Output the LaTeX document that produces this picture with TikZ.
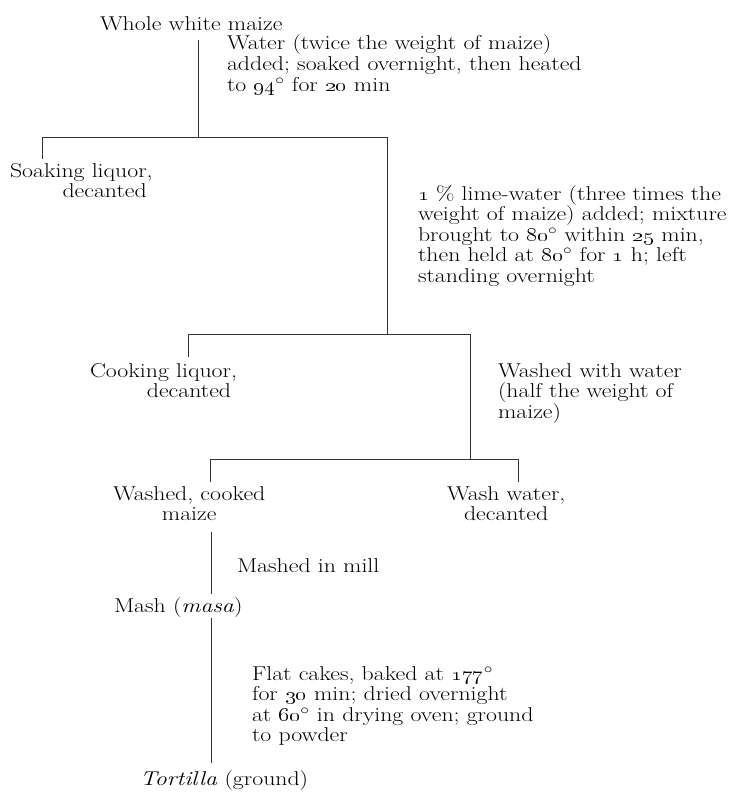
\documentclass[tikz,border=0pt]{standalone}
\newcommand\osn[1]{\oldstylenums{#1}}
\newcommand\dg{$^{\circ}$}
\newcommand\xs{1.19}
\newcommand\bl[1]{\scalebox{\xs}[1]{\vtop{\baselineskip=15.4pt\lineskiplimit=-\maxdimen\halign{##\hfil\cr#1\crcr}}}}
\newcommand\br[1]{\scalebox{\xs}[1]{\vtop{\baselineskip=15.4pt\lineskiplimit=-\maxdimen\halign{\hfil##\cr#1\crcr}}}}
\newcommand\bc[1]{\scalebox{\xs}[1]{\vtop{\baselineskip=15.4pt\lineskiplimit=-\maxdimen\halign{\hfil##\hfil\cr#1\crcr}}}}
\tikzset{
  txt/.style={anchor=base west, inner sep=0pt, outer sep=0pt,
    font=\fontsize{15}{15.4}\selectfont},
  ln/.style={line width=0.65pt, black!80},
}
\begin{document}
\begin{tikzpicture}[x=0.75pt,y=-0.75pt]
\useasboundingbox (0,0) rectangle (730,792);
% texts (anchor = baseline of first line)
\node[txt] (whole) at (100,31) {\bl{Whole white maize}};
\node[txt] (water) at (227,50) {\bl{Water (twice the weight of maize)\cr added; soaked overnight, then heated\cr to \osn{94}\dg\ for \osn{20} min}};
\node[txt] (soak) at (10,177) {\br{Soaking liquor\rlap{,}\cr decanted}};
\node[txt] (lime) at (418,200) {\bl{\osn{1} \% lime-water (three times the\cr weight of maize) added; mixture\cr brought to \osn{80}\dg\ within \osn{25} min,\cr then held at \osn{80}\dg\ for \osn{1} h; left\cr standing overnight}};
\node[txt] (cook) at (90,377) {\br{Cooking liquor\rlap{,}\cr decanted}};
\node[txt] (washw) at (498,377) {\bl{Washed with water\cr (half the weight of\cr maize)}};
\node[txt] (wcm) at (113,500) {\bc{Washed, cooked\cr maize}};
\node[txt] (wwd) at (447,500) {\bc{Wash water,\cr decanted}};
\node[txt] (mill) at (237,572) {\bl{Mashed in mill}};
\node[txt] (mash) at (114,612) {\bl{Mash (\textit{masa})}};
\node[txt] (flat) at (252,680) {\bl{Flat cakes, baked at \osn{177}\dg\cr for \osn{30} min; dried overnight\cr at \osn{60}\dg\ in drying oven; ground\cr to powder}};
\node[txt] (tort) at (140,785) {\bl{\textit{Tortilla} (ground)}};
% junction coordinates
\coordinate (a0) at (198,40);
\coordinate (a1) at (198,137);
\coordinate (a2) at (42,137);
\coordinate (a3) at (42,159);
\coordinate (a4) at (387,137);
\coordinate (b1) at (387,334);
\coordinate (b2) at (188,334);
\coordinate (b3) at (188,357);
\coordinate (b4) at (470,334);
\coordinate (c1) at (470,459);
\coordinate (c2) at (210,459);
\coordinate (c3) at (210,482);
\coordinate (c4) at (518,459);
\coordinate (c5) at (518,482);
\coordinate (d0) at (211,532);
\coordinate (d1) at (211,594);
\coordinate (e0) at (211,618);
\coordinate (e1) at (211,763);
% connectors
\draw[ln] (a0) -- (a1);
\draw[ln] (a3) -- (a2) -- (a4) -- (b1);
\draw[ln] (b3) -- (b2) -- (b4) -- (c1);
\draw[ln] (c3) -- (c2) -- (c4) -- (c5);
\draw[ln] (d0) -- (d1);
\draw[ln] (e0) -- (e1);
\end{tikzpicture}
\end{document}
